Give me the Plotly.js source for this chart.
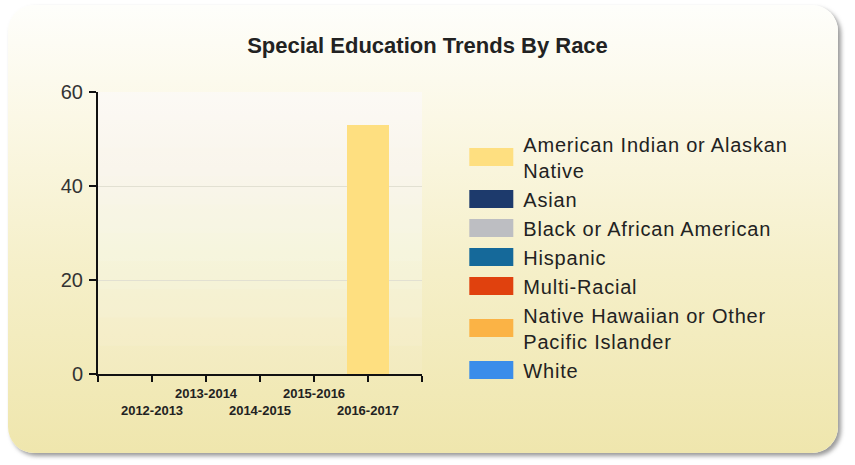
<!DOCTYPE html>
<html>
<head>
<meta charset="utf-8">
<script src="https://cdn.plot.ly/plotly-3.0.1.min.js"></script>
<style>
  html, body { margin: 0; padding: 0; background: #ffffff; }
  #panel {
    position: absolute; left: 8px; top: 5px; width: 830px; height: 448px;
    border-radius: 26px;
    background: linear-gradient(to bottom, #fefefb 0%, #fbf8e6 25%, #f5efc8 60%, #efe6ad 100%);
    box-shadow: 3px 3px 4px rgba(120,120,120,0.75);
  }
  #chart { position: absolute; left: 0; top: 0; width: 855px; height: 465px; }
</style>
</head>
<body>
<div id="panel"></div>
<div id="chart"></div>
<script>
const categories = ['2012-2013', '2013-2014', '2014-2015', '2015-2016', '2016-2017'];
const seriesNames = [
  'American Indian or Alaskan<br>Native',
  'Asian',
  'Black or African American',
  'Hispanic',
  'Multi-Racial',
  'Native Hawaiian or Other<br>Pacific Islander',
  'White'
];
const seriesColors = ['#FEDF80', '#1D3A6C', '#BDBEC2', '#15699A', '#E0410E', '#FBB345', '#3A8DEA'];
const americanIndian = [0, 0, 0, 0, 53];
const asian = [0, 0, 0, 0, 0];
const black = [0, 0, 0, 0, 0];
const hispanic = [0, 0, 0, 0, 0];
const multiRacial = [0, 0, 0, 0, 0];
const nativeHawaiian = [0, 0, 0, 0, 0];
const white = [0, 0, 0, 0, 0];
const seriesValues = [americanIndian, asian, black, hispanic, multiRacial, nativeHawaiian, white];
const yTicks = [0, 20, 40, 60];

const FONT = 'Liberation Sans, Arial, sans-serif';

const traces = seriesValues.map((vals, i) => ({
  type: 'bar',
  x: categories,
  y: vals,
  name: seriesNames[i],
  marker: { color: seriesColors[i], line: { width: 0 } },
  hoverinfo: 'x+y+name'
}));

// staggered tick labels
const tickVals = [-1].concat(categories.map((c, i) => i)).concat([categories.length]);
const tickText = [''].concat(categories.map((c, i) => (i % 2 === 0 ? '<br>' + c : c))).concat(['']);

// soft gradient for plot background
const bgShapes = [];
for (let k = 0; k < 10; k++) {
  bgShapes.push({
    type: 'rect', layer: 'below', xref: 'x domain', yref: 'y domain',
    x0: 0, x1: 1, y0: k / 10, y1: 1,
    fillcolor: 'rgba(255,255,252,0.09)', line: { width: 0 }
  });
}

const layout = {
  width: 855, height: 465,
  margin: { l: 98, r: 433, t: 92, b: 91 },
  paper_bgcolor: 'rgba(0,0,0,0)',
  plot_bgcolor: 'rgba(0,0,0,0)',
  font: { family: FONT, color: '#222' },
  title: {
    text: '<b>Special Education Trends By Race</b>',
    font: { size: 22, color: '#222', family: FONT },
    x: 0.5, xref: 'container', xanchor: 'center',
    y: 1, yref: 'container', yanchor: 'top', pad: { t: 38 }
  },
  barmode: 'stack',
  bargap: 0.24,
  xaxis: {
    type: 'category',
    range: [-1, categories.length],
    tickmode: 'array',
    tickvals: tickVals,
    ticktext: tickText,
    tickangle: 0,
    ticks: 'outside', ticklen: 6, tickwidth: 2, tickcolor: '#111',
    showline: true, linecolor: '#111', linewidth: 2,
    showgrid: false, zeroline: false,
    tickfont: { size: 13, color: '#222', family: FONT, weight: 'bold' },
    fixedrange: true
  },
  yaxis: {
    range: [0, 60],
    tickmode: 'array', tickvals: yTicks,
    ticks: 'outside', ticklen: 7, tickwidth: 2, tickcolor: '#111',
    showline: true, linecolor: '#111', linewidth: 2,
    showgrid: true, gridcolor: '#e2e0d2', gridwidth: 1,
    zeroline: false,
    tickfont: { size: 20, color: '#333' },
    ticklabelstandoff: 2,
    fixedrange: true
  },
  legend: {
    x: 1.146, xanchor: 'left', y: 0.885, yanchor: 'top',
    xref: 'paper', yref: 'paper',
    bgcolor: 'rgba(0,0,0,0)',
    font: { size: 20, color: '#222' },
    traceorder: 'normal',
    itemwidth: 44,
    tracegroupgap: 0
  },
  shapes: bgShapes,
  showlegend: true
};

Plotly.newPlot('chart', traces, layout, { displayModeBar: false, staticPlot: true }).then(gd => {
  // wide rectangular legend swatches like the reference
  gd.querySelectorAll('.legend .legendpoints path').forEach(p => {
    p.setAttribute('d', 'M17,9H-27V-9H17Z');
  });
  gd.querySelectorAll('.legend text.legendtext').forEach(t => {
    t.style.letterSpacing = '0.8px';
  });
  // let the slightly wider legend text show in full
  gd.querySelectorAll('.legend [clip-path]').forEach(el => el.removeAttribute('clip-path'));
});
</script>
</body>
</html>
